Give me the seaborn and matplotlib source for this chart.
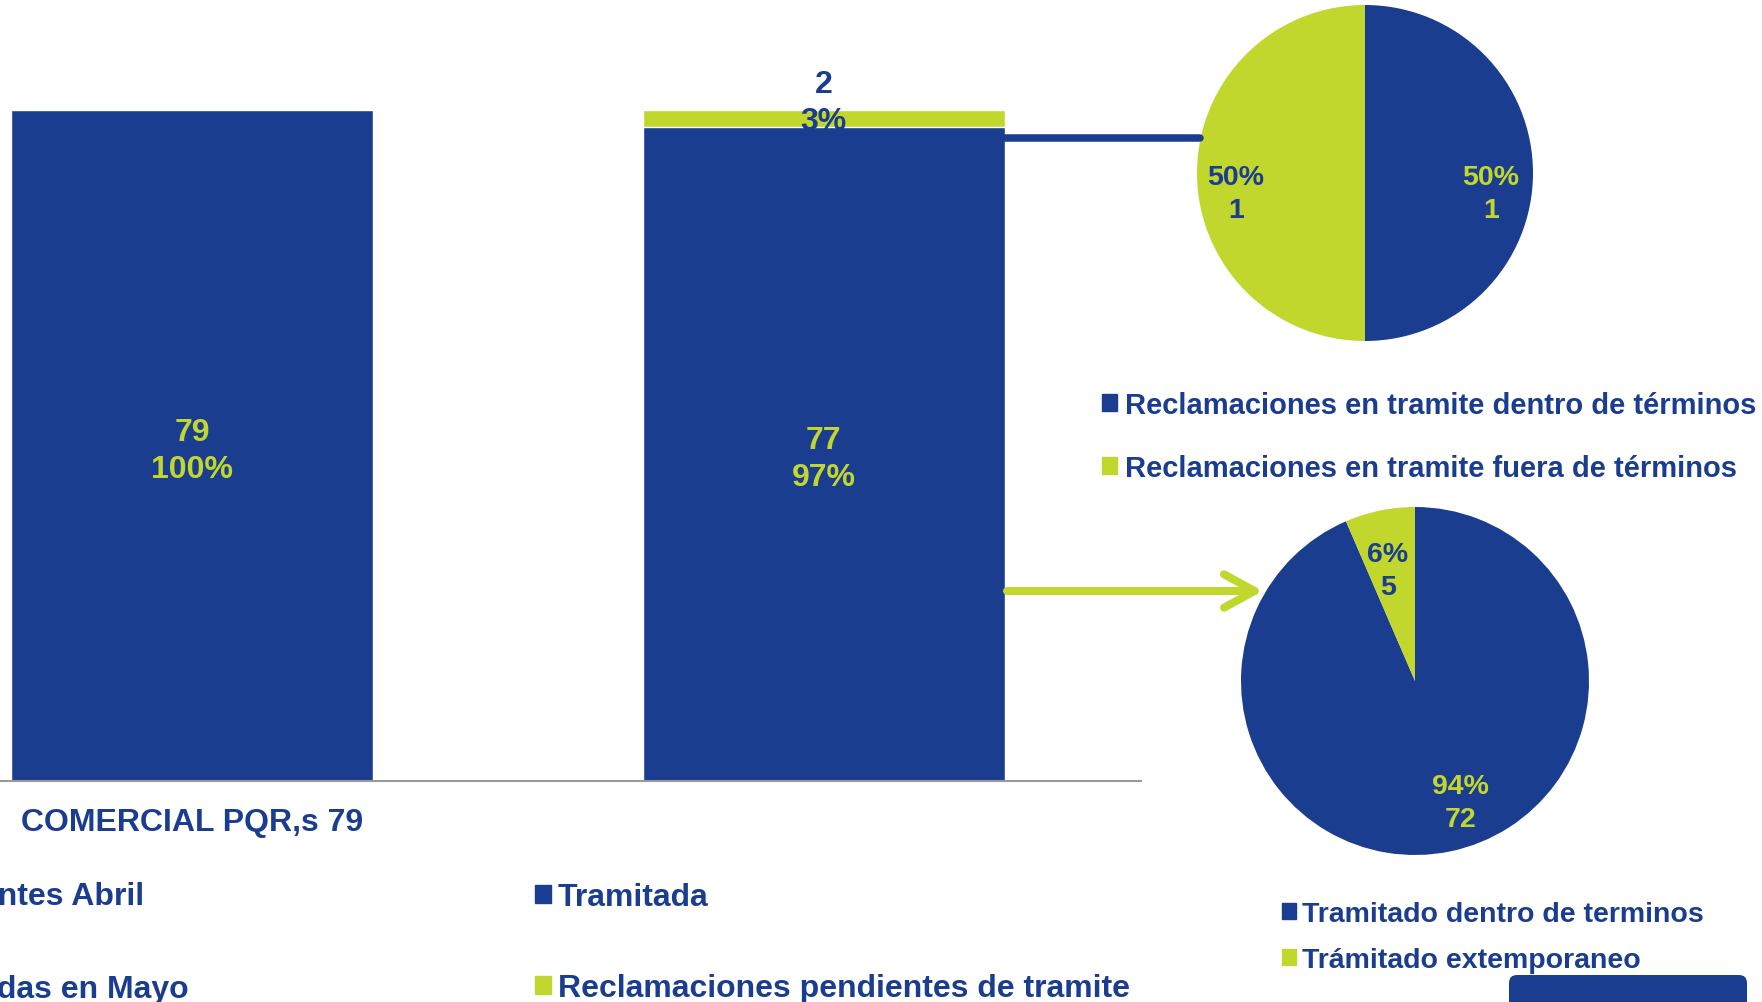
import matplotlib
matplotlib.use("Agg")
import matplotlib.pyplot as plt
import seaborn as sns
import pandas as pd
from matplotlib.patches import Patch, FancyArrowPatch, FancyBboxPatch
from matplotlib.lines import Line2D

# Colours used in the report
blue = '#1B3D8F'
green = '#C1D72E'

# Bar chart data
categories = ['COMERCIAL PQR,s 79', ' ']
blue_values = [79, 77]        # recibidas / tramitada
green_values = [0, 2]         # reclamaciones pendientes de tramite
blue_pct = [100, 97]
green_pct = [0, 3]

# Pie 1: reclamaciones pendientes
pie1_values = [1, 1]
pie1_pct = [50, 50]
pie1_labels = ['Reclamaciones en tramite dentro de términos',
               'Reclamaciones en tramite fuera de términos']

# Pie 2: tramitadas
pie2_values = [72, 5]
pie2_pct = [94, 6]
pie2_labels = ['Tramitado dentro de terminos', 'Trámitado extemporaneo']

bar_legend_left = ['Reclamaciones pendientes Abril', 'Reclamaciones recibidas en Mayo']
bar_legend_right = ['Tramitada', 'Reclamaciones pendientes de tramite']

sns.set_style('white')
plt.rcParams['font.family'] = ['Liberation Sans', 'DejaVu Sans']
plt.rcParams['font.weight'] = 'bold'

W, H = 1762, 1003
fig = plt.figure(figsize=(W / 100, H / 100), dpi=100)

# ---- stacked bars ----
ax = fig.add_axes([0, (H - 782) / H, 1141 / W, 782 / H])
ax.patch.set_alpha(0)
df = pd.DataFrame({'cat': categories,
                   'total': [b + g for b, g in zip(blue_values, green_values)],
                   'blue': blue_values})
sns.barplot(data=df, x='cat', y='total', color=green, saturation=1, width=0.573, ax=ax)
sns.barplot(data=df, x='cat', y='blue', color=blue, saturation=1, width=0.573, ax=ax)
ax.set_xlim(-0.304, 1.502)
ax.set_ylim(0, 92.07)
ax.set_xlabel('')
ax.set_ylabel('')
ax.set_yticks([])
ax.tick_params(axis='x', length=0, pad=19, labelsize=23, labelcolor=blue)
for lbl in ax.get_xticklabels():
    lbl.set_fontweight('bold')
for side in ['top', 'right', 'left']:
    ax.spines[side].set_visible(False)
ax.spines['bottom'].set_color('#999999')
ax.spines['bottom'].set_linewidth(1.5)

for i in range(len(categories)):
    ax.text(i, blue_values[i] / 2 - 0.55, f'{blue_values[i]}\n{blue_pct[i]}%', ha='center', va='center',
            color=green, fontsize=23, fontweight='bold', linespacing=1.3)
    if green_values[i] > 0:
        ax.text(i, blue_values[i] + green_values[i] + 0.9, f'{green_values[i]}\n{green_pct[i]}%',
                ha='center', va='center', color=blue, fontsize=23, fontweight='bold', linespacing=1.3)

# ---- pie 1 ----
axp1 = fig.add_axes([1197 / W, (H - 342) / H, 336 / W, 336 / H])
axp1.pie(pie1_values, colors=[blue, green], startangle=90, counterclock=False,
         wedgeprops=dict(linewidth=0))
axp1.set_xlim(-1, 1)
axp1.set_ylim(-1, 1)
pos1 = [(0.75, -0.12), (-0.77, -0.12)]
tcol1 = [green, blue]
for (x, y), v, p, c in zip(pos1, pie1_values, pie1_pct, tcol1):
    axp1.text(x, y, f'{p}%\n{v}', ha='center', va='center', color=c,
              fontsize=20.5, fontweight='bold', linespacing=1.35)

# ---- pie 2 ----
axp2 = fig.add_axes([1241 / W, (H - 856) / H, 348 / W, 348 / H])
axp2.pie(pie2_values, colors=[blue, green], startangle=90, counterclock=False,
         wedgeprops=dict(linewidth=0))
axp2.set_xlim(-1, 1)
axp2.set_ylim(-1, 1)
pos2 = [(0.26, -0.70), (-0.155, 0.635)]
tcol2 = [green, blue]
for (x, y), v, p, c in zip(pos2, pie2_values, pie2_pct, tcol2):
    axp2.text(x, y, f'{p}%\n{v}', ha='center', va='center', color=c,
              fontsize=20.5, fontweight='bold', linespacing=1.35)

# ---- connectors ----
fig.add_artist(Line2D([1005 / W, 1200 / W], [1 - 139 / H, 1 - 139 / H],
                      transform=fig.transFigure, color=blue, lw=5.4, zorder=3))
fig.add_artist(FancyArrowPatch((1007 / W, 1 - 592 / H), (1263 / W, 1 - 592 / H),
                               transform=fig.transFigure, color=green, lw=5.8,
                               arrowstyle='->,head_length=22,head_width=12',
                               mutation_scale=1, shrinkA=0, shrinkB=0,
                               capstyle='round', joinstyle='round', zorder=3))

# ---- legends ----
def make_legend(labels, x, y, size, spacing, pad):
    fig.legend(handles=[Patch(color=blue), Patch(color=green)], labels=labels,
               loc='upper left', bbox_to_anchor=(x / W, 1 - y / H), bbox_transform=fig.transFigure,
               frameon=False, prop=dict(family='Liberation Sans', weight='bold', size=size),
               labelcolor=blue, handlelength=0.5, handleheight=0.5, handletextpad=pad,
               borderpad=0, borderaxespad=0, labelspacing=spacing)

make_legend(pie1_labels, 1102, 392, 21, 1.19, 0.28)
make_legend(pie2_labels, 1282, 902, 20.5, 0.70, 0.22)
make_legend(bar_legend_right, 535, 883, 23, 1.91, 0.22)

for txt, x, y in zip(bar_legend_left, [144, 189], [897, 990]):
    fig.text(x / W, 1 - y / H, txt, ha='right', va='center', color=blue,
             fontsize=23, fontweight='bold')

# blue box in the corner
fig.add_artist(FancyBboxPatch((15.09, -0.3), 2.38, 0.57,
                              boxstyle='round,pad=0,rounding_size=0.08',
                              transform=fig.dpi_scale_trans, color=blue, lw=0))

fig.savefig('out.png', dpi=100)
